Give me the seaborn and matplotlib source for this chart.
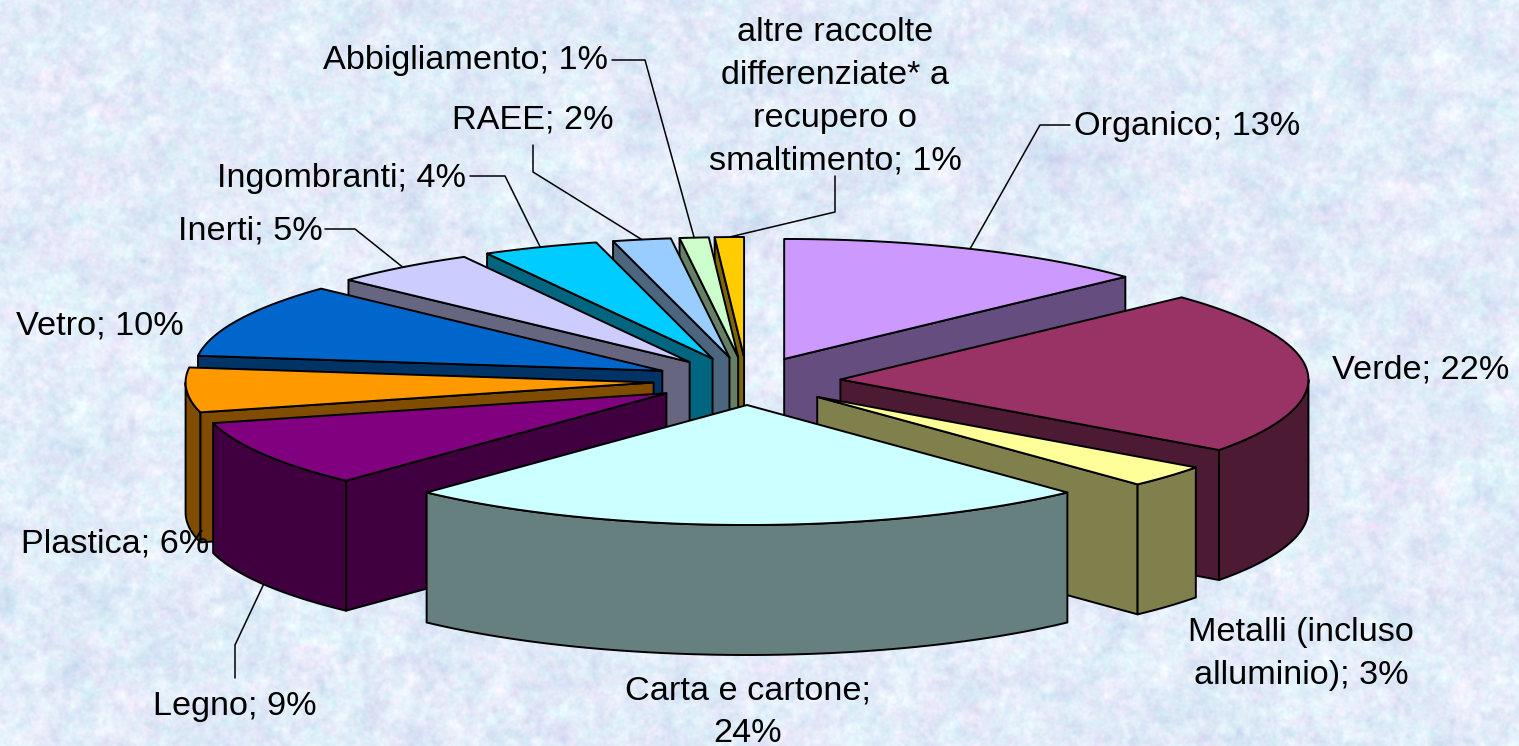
import numpy as np
import matplotlib
matplotlib.use('Agg')
import matplotlib.pyplot as plt
import seaborn as sns

# Raccolta differenziata, shares in percent, clockwise from 12 o'clock
values = [13, 22, 3, 24, 9, 6, 10, 5, 4, 2, 1, 1]
hex_colors = ['#CC99FF', '#993366', '#FFFF99', '#CCFFFF', '#800080', '#FF9900',
              '#0066CC', '#CCCCFF', '#00CCFF', '#99CCFF', '#CCFFCC', '#FFCC00']
label_texts = ['Organico; 13%', 'Verde; 22%', 'Metalli (incluso\nalluminio); 3%',
               'Carta e cartone;\n24%', 'Legno; 9%', 'Plastica; 6%', 'Vetro; 10%',
               'Inerti; 5%', 'Ingombranti; 4%', 'RAEE; 2%', 'Abbigliamento; 1%',
               'altre raccolte\ndifferenziate* a\nrecupero o\nsmaltimento; 1%']

# pie geometry in picture pixels
cx, cy = 747, 381
rx, ry = 468, 120
depth = 130
explode = 0.2

sns.set_theme(style='white')
plt.rcParams['font.family'] = ['Liberation Sans', 'DejaVu Sans']

top_colors = sns.color_palette(hex_colors)
side_colors = [tuple(np.array(c) * 0.5) for c in top_colors]

fig, ax = plt.subplots(figsize=(15.19, 7.46))
fig.subplots_adjust(left=0, right=1, bottom=0, top=1)
ax.set_xlim(0, 1519)
ax.set_ylim(746, 0)
ax.axis('off')


def mottled(h, w, seed):
    # band limited noise, only for the paper texture behind the chart
    noise = np.random.default_rng(seed).normal(size=(h, w))
    fy = np.fft.fftfreq(h)[:, None]
    fx = np.fft.fftfreq(w)[None, :]
    f = np.sqrt(fx ** 2 + fy ** 2)
    out = np.zeros((h, w))
    for scale, weight in [(0.02, 0.5), (0.07, 0.7), (0.2, 0.6)]:
        layer = np.fft.ifft2(np.fft.fft2(noise) * np.exp(-(f / scale) ** 2)).real
        out += weight * layer / layer.std()
    return out / out.std()


blue = mottled(746, 1519, 1)
pink = mottled(746, 1519, 2)
paper = np.dstack([226 + 6 * blue + 3 * pink,
                   236 + 5 * blue - 2 * pink,
                   249 + 2.5 * blue])
ax.imshow(np.clip(paper, 0, 255).astype(np.uint8), extent=(0, 1519, 746, 0), aspect='auto', zorder=0)


def rim(t, ox, oy):
    t = np.radians(t)
    return ox + rx * np.sin(t), oy - ry * np.cos(t)


edges = np.cumsum([0] + values) * 3.6
mids = (edges[:-1] + edges[1:]) / 2
origins = [(cx + explode * rx * np.sin(np.radians(m)), cy - explode * ry * np.cos(np.radians(m))) for m in mids]

line = dict(edgecolor='black', linewidth=1.4, joinstyle='round')

# back wedges first, the front ones paint over them
for i in np.argsort(-np.cos(np.radians(mids))):
    ox, oy = origins[i]
    start, end = edges[i], edges[i + 1]
    # only the cut faces turned towards the viewer
    faces = []
    if np.sin(np.radians(start)) < -1e-6:
        faces.append(start)
    if np.sin(np.radians(end)) > 1e-6:
        faces.append(end)
    for t in faces:
        x, y = rim(t, ox, oy)
        ax.fill([ox, x, x, ox], [oy, y, y + depth, oy + depth], facecolor=side_colors[i], **line)
    lo, hi = max(start, 90), min(end, 270)
    if lo < hi:
        x, y = rim(np.linspace(lo, hi, 80), ox, oy)
        ax.fill(np.r_[x, x[::-1]], np.r_[y, y[::-1] + depth], facecolor=side_colors[i], **line)
    x, y = rim(np.linspace(start, end, 80), ox, oy)
    ax.fill(np.r_[ox, x], np.r_[oy, y], facecolor=top_colors[i], **line)

# leader lines: label side points, the last point is on the wedge rim
elbows = {0: [(1070, 125), (1040, 125)],
          4: [(235, 678), (235, 645)],
          7: [(325, 229), (355, 229)],
          8: [(470, 176), (505, 176)],
          9: [(533, 145), (533, 172)],
          10: [(612, 60), (645, 60)],
          11: [(835, 176), (835, 212)]}
for i, pts in elbows.items():
    x, y = rim(mids[i], *origins[i])
    if np.cos(np.radians(mids[i])) < 0:
        y += depth
    ax.plot([p[0] for p in pts] + [x], [p[1] for p in pts] + [y], color='black', lw=1.1, zorder=5)

label_pos = [(1074, 127, 'left'), (1332, 370, 'left'), (1301, 654, 'center'),
             (748, 712, 'center'), (153, 707, 'left'), (21, 544, 'left'),
             (16, 326, 'left'), (178, 231, 'left'), (217, 178, 'left'),
             (452, 120, 'left'), (323, 60, 'left'), (835, 97, 'center')]
for txt, (x, y, ha) in zip(label_texts, label_pos):
    ax.text(x, y, txt, ha=ha, va='center', multialignment='center', fontsize=24.7,
            linespacing=1.5, color='black', zorder=6)

fig.savefig('out.png', dpi=100)
